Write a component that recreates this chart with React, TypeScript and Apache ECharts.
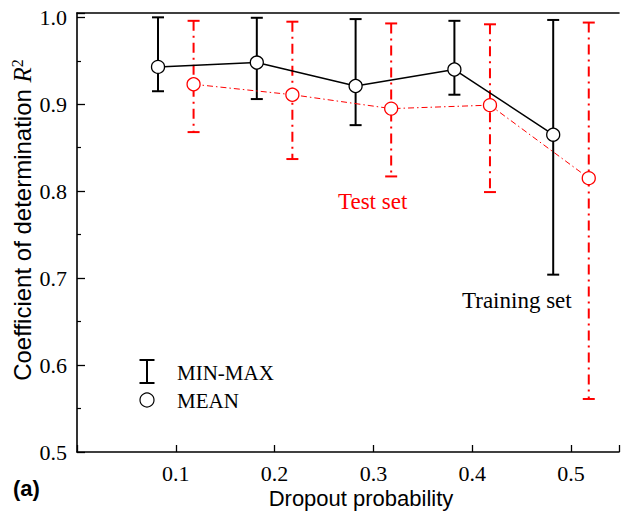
import React, { useEffect, useRef } from "react";
import * as echarts from "echarts";

// Dropout study: training vs test set R^2 (mean with min–max range)
const trainX = [0.082, 0.182, 0.282, 0.382, 0.482];
const trainMean = [0.943, 0.948, 0.921, 0.94, 0.865];
const trainMin = [0.915, 0.906, 0.876, 0.911, 0.704];
const trainMax = [1.0, 0.9995, 0.998, 0.996, 0.997];

const testX = [0.118, 0.218, 0.318, 0.418, 0.518];
const testMean = [0.923, 0.911, 0.895, 0.899, 0.815];
const testMin = [0.868, 0.837, 0.817, 0.799, 0.561];
const testMax = [0.996, 0.995, 0.993, 0.992, 0.994];

const X_MIN = 0;
const X_MAX = 0.5486;
const Y_MIN = 0.5;
const Y_MAX = 1.005;

const SERIF = "'Liberation Serif', 'Times New Roman', serif";
const SANS = "'Liberation Sans', Arial, sans-serif";
const RED = "#ff0000";

const tickFmt = (v: number) =>
  Math.abs(v * 10 - Math.round(v * 10)) > 1e-6 || v === 0 ? "" : v.toFixed(1);

function errorBars(color: string, dash: number[] | null) {
  return (params: any, api: any) => {
    const x = api.value(0);
    const lo = api.coord([x, api.value(1)]);
    const hi = api.coord([x, api.value(2)]);
    const half = 6;
    const cap = { stroke: color, lineWidth: 2 };
    return {
      type: "group",
      children: [
        {
          type: "line",
          shape: { x1: hi[0], y1: hi[1], x2: lo[0], y2: lo[1] },
          style: { stroke: color, lineWidth: 2, lineDash: dash || undefined },
        },
        { type: "line", shape: { x1: hi[0] - half, y1: hi[1], x2: hi[0] + half, y2: hi[1] }, style: cap },
        { type: "line", shape: { x1: lo[0] - half, y1: lo[1], x2: lo[0] + half, y2: lo[1] }, style: cap },
      ],
    };
  };
}

export default function App() {
  const ref = useRef<HTMLDivElement>(null);

  useEffect(() => {
    if (!ref.current) return;
    const chart = echarts.init(ref.current, undefined, { renderer: "svg" });

    const axisLine = { show: true, lineStyle: { color: "#000", width: 1.6 } };

    chart.setOption({
      animation: false,
      backgroundColor: "#fff",
      grid: { left: 77, right: 0, top: 13, bottom: 65, containLabel: false },
      xAxis: [
        {
          type: "value",
          min: X_MIN,
          max: X_MAX,
          interval: 0.1,
          axisLine,
          axisTick: { show: true, inside: true, length: 7, lineStyle: { color: "#000", width: 1.3 } },
          axisLabel: { formatter: tickFmt, fontFamily: SERIF, fontSize: 22, color: "#000", margin: 10 },
          splitLine: { show: false },
        },
        {
          type: "value",
          position: "top",
          min: X_MIN,
          max: X_MAX,
          interval: 0.1,
          axisLine,
          axisTick: { show: false },
          axisLabel: { show: false },
          splitLine: { show: false },
        },
      ],
      yAxis: {
        type: "value",
        min: Y_MIN,
        max: Y_MAX,
        interval: 0.1,
        axisLine,
        axisTick: { show: true, inside: true, length: 8, lineStyle: { color: "#000", width: 1.3 } },
        minorTick: { show: true, splitNumber: 2, length: 4, lineStyle: { color: "#000", width: 1.2 } },
        axisLabel: { formatter: tickFmt, fontFamily: SERIF, fontSize: 22, color: "#000", margin: 10 },
        splitLine: { show: false },
      },
      series: [
        {
          type: "custom",
          name: "Training range",
          renderItem: errorBars("#000", null),
          data: trainX.map((x, i) => [x, trainMin[i], trainMax[i]]),
          encode: { x: 0, y: [1, 2] },
          z: 2,
        },
        {
          type: "custom",
          name: "Test range",
          renderItem: errorBars(RED, [10, 5, 2, 5]),
          data: testX.map((x, i) => [x, testMin[i], testMax[i]]),
          encode: { x: 0, y: [1, 2] },
          z: 2,
        },
        {
          type: "line",
          name: "Training mean",
          data: trainX.map((x, i) => [x, trainMean[i]]),
          symbol: "circle",
          symbolSize: 13,
          lineStyle: { color: "#000", width: 1.5 },
          itemStyle: { color: "#fff", borderColor: "#000", borderWidth: 1.3 },
          z: 4,
        },
        {
          type: "line",
          name: "Test mean",
          data: testX.map((x, i) => [x, testMean[i]]),
          symbol: "circle",
          symbolSize: 13,
          lineStyle: { color: RED, width: 1, type: [6, 3, 1.5, 3] },
          itemStyle: { color: "#fff", borderColor: RED, borderWidth: 1.3 },
          z: 3,
        },
      ],
      graphic: [
        {
          type: "text",
          x: 22,
          y: 220,
          rotation: Math.PI / 2,
          style: {
            text: "Coefficient of determination {i|R}{s|2}",
            fontFamily: SANS,
            fontSize: 24,
            fill: "#000",
            align: "center",
            verticalAlign: "middle",
            rich: {
              i: { fontFamily: SERIF, fontStyle: "italic", fontSize: 25, fill: "#000" },
              s: { fontFamily: SERIF, fontSize: 16, verticalAlign: "top", fill: "#000" },
            },
          },
        },
        {
          type: "text",
          x: 361,
          y: 498,
          style: {
            text: "Dropout probability",
            fontFamily: SANS,
            fontSize: 22,
            fill: "#000",
            align: "center",
            verticalAlign: "middle",
          },
        },
        {
          type: "text",
          x: 13,
          y: 488,
          style: {
            text: "(a)",
            fontFamily: SANS,
            fontWeight: "bold",
            fontSize: 22,
            fill: "#000",
            align: "left",
            verticalAlign: "middle",
          },
        },
        {
          type: "text",
          x: 338,
          y: 201,
          style: { text: "Test set", fontFamily: SERIF, fontSize: 23, fill: RED, align: "left", verticalAlign: "middle" },
        },
        {
          type: "text",
          x: 462,
          y: 300,
          style: { text: "Training set", fontFamily: SERIF, fontSize: 23, fill: "#000", align: "left", verticalAlign: "middle" },
        },
        // legend glyphs
        { type: "line", shape: { x1: 147, y1: 360, x2: 147, y2: 383 }, style: { stroke: "#000", lineWidth: 2 } },
        { type: "line", shape: { x1: 139.5, y1: 360, x2: 154.5, y2: 360 }, style: { stroke: "#000", lineWidth: 2 } },
        { type: "line", shape: { x1: 139.5, y1: 383, x2: 154.5, y2: 383 }, style: { stroke: "#000", lineWidth: 2 } },
        { type: "circle", shape: { cx: 147, cy: 400, r: 7 }, style: { fill: "#fff", stroke: "#000", lineWidth: 1.2 } },
        {
          type: "text",
          x: 177,
          y: 373,
          style: { text: "MIN-MAX", fontFamily: SERIF, fontSize: 21, fill: "#000", align: "left", verticalAlign: "middle" },
        },
        {
          type: "text",
          x: 177,
          y: 401,
          style: { text: "MEAN", fontFamily: SERIF, fontSize: 21, fill: "#000", align: "left", verticalAlign: "middle" },
        },
      ],
    });

    return () => chart.dispose();
  }, []);

  return (
    <div
      ref={ref}
      style={{ position: "fixed", left: 0, top: 0, width: 622, height: 517, background: "#fff" }}
    />
  );
}
